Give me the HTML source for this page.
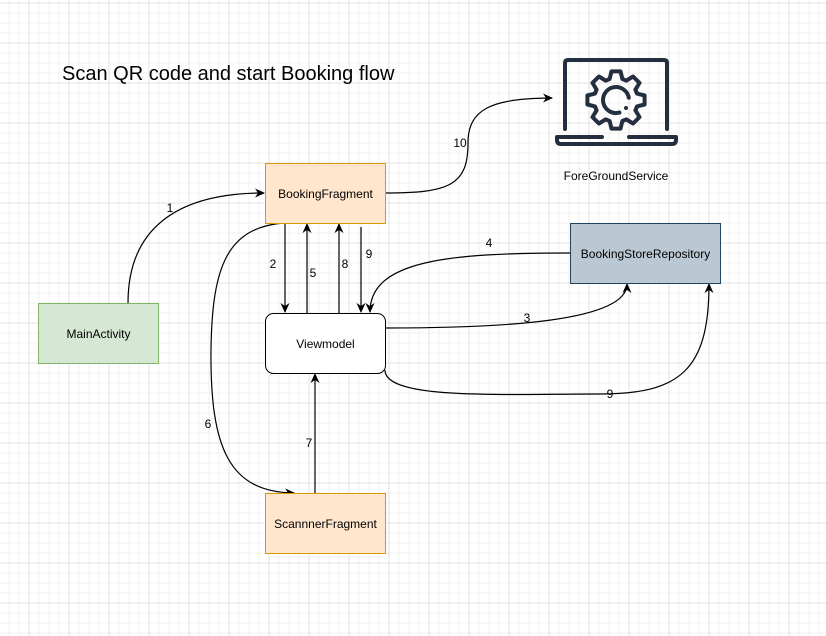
<!DOCTYPE html>
<html><head><meta charset="utf-8"><style>
html,body{margin:0;padding:0;background:#fff;}
svg{display:block;font-family:"Liberation Sans",Helvetica,Arial,sans-serif;}
</style></head><body>
<svg width="826" height="636" viewBox="0 0 826 636" xmlns="http://www.w3.org/2000/svg">
<defs>
<pattern id="minor" width="10" height="10" patternUnits="userSpaceOnUse" x="8.5" y="2.5">
<path d="M0 0.5H10M0.5 0V10" stroke="#f0f0f0" stroke-width="1" fill="none"/>
</pattern>
<pattern id="major" width="40" height="40" patternUnits="userSpaceOnUse" x="28.5" y="2.5">
<path d="M0 0.5H40M0.5 0V40" stroke="#e0e0e0" stroke-width="1" fill="none"/>
</pattern>
<marker id="ar" viewBox="0 0 10 10" refX="9" refY="5" markerWidth="10" markerHeight="10" markerUnits="userSpaceOnUse" orient="auto">
<path d="M0 0.5L10 5L0 9.5L3 5Z" fill="#000"/>
</marker>
</defs>
<rect width="826" height="636" fill="url(#minor)"/>
<rect width="826" height="636" fill="url(#major)"/>

<text x="62" y="80" font-size="20" fill="#000">Scan QR code and start Booking flow</text>

<!-- laptop icon -->
<g fill="none" stroke="#232f3e" stroke-width="4" stroke-linecap="round" stroke-linejoin="round">
<path d="M565 129V63q0-3 3-3h96q3 0 3 3V129"/>
<path d="M602 137H557v3q0 4 4 4h111q4 0 4-4v-3H629"/>
<path d="M637.0 93.6L644.6 95.5L644.6 104.5L637.0 106.4L635.4 110.3L639.5 117.1L633.1 123.5L626.3 119.4L622.4 121.0L620.5 128.6L611.5 128.6L609.6 121.0L605.7 119.4L598.9 123.5L592.5 117.1L596.6 110.3L595.0 106.4L587.4 104.5L587.4 95.5L595.0 93.6L596.6 89.7L592.5 82.9L598.9 76.5L605.7 80.6L609.6 79.0L611.5 71.4L620.5 71.4L622.4 79.0L626.3 80.6L633.1 76.5L639.5 82.9L635.4 89.7Z"/>
<path d="M628.8 97.7A13 13 0 1 0 619.4 112.6"/>
</g>
<circle cx="626" cy="108" r="2" fill="#232f3e"/>
<text x="616" y="180" font-size="12" text-anchor="middle">ForeGroundService</text>

<!-- edges -->
<g fill="none" stroke="#000" stroke-width="1.2">
<path d="M128 303C128 230 175 193 264 193" marker-end="url(#ar)"/>
<path d="M385 193C450 193 468 185 468 143C468 110 490 98 552 98" marker-end="url(#ar)"/>
<path d="M285 223V312" marker-end="url(#ar)"/>
<path d="M307 313V224" marker-end="url(#ar)"/>
<path d="M339 313V224" marker-end="url(#ar)"/>
<path d="M361 227V312" marker-end="url(#ar)"/>
<path d="M570 253C450 253 370 260 370 312" marker-end="url(#ar)"/>
<path d="M385 328C500 328 627 322 627 284" marker-end="url(#ar)"/>
<path d="M385 370C385 400 500 394 600 394C680 394 709 370 709 284" marker-end="url(#ar)"/>
<path d="M283 223C228 228 212 265 211 350C210 450 230 492 294 493" marker-end="url(#ar)"/>
<path d="M315 493V374" marker-end="url(#ar)"/>
</g>

<!-- edge labels -->
<g font-size="12" text-anchor="middle" fill="#000">
<text x="170" y="212">1</text>
<text x="460" y="147">10</text>
<text x="273" y="268">2</text>
<text x="313" y="277">5</text>
<text x="345" y="268">8</text>
<text x="369" y="258">9</text>
<text x="489" y="247">4</text>
<text x="527" y="322">3</text>
<text x="610" y="398">9</text>
<text x="208" y="428">6</text>
<text x="309" y="447">7</text>
</g>

<!-- nodes -->
<rect x="265.5" y="163.5" width="120" height="60" fill="#ffe6cc" stroke="#d79b00"/>
<text x="325.5" y="198" font-size="12" text-anchor="middle">BookingFragment</text>
<rect x="265.5" y="313.5" width="120" height="60" rx="8" fill="#fff" stroke="#000"/>
<text x="325.5" y="348" font-size="12" text-anchor="middle">Viewmodel</text>
<rect x="38.5" y="303.5" width="120" height="60" fill="#d5e8d4" stroke="#82b366"/>
<text x="98.5" y="338" font-size="12" text-anchor="middle">MainActivity</text>
<rect x="570.5" y="223.5" width="150" height="60" fill="#bac8d3" stroke="#23445d"/>
<text x="645.5" y="258" font-size="12" text-anchor="middle">BookingStoreRepository</text>
<rect x="265.5" y="493.5" width="120" height="60" fill="#ffe6cc" stroke="#d79b00"/>
<text x="325.5" y="528" font-size="12" text-anchor="middle">ScannnerFragment</text>
</svg>
</body></html>
